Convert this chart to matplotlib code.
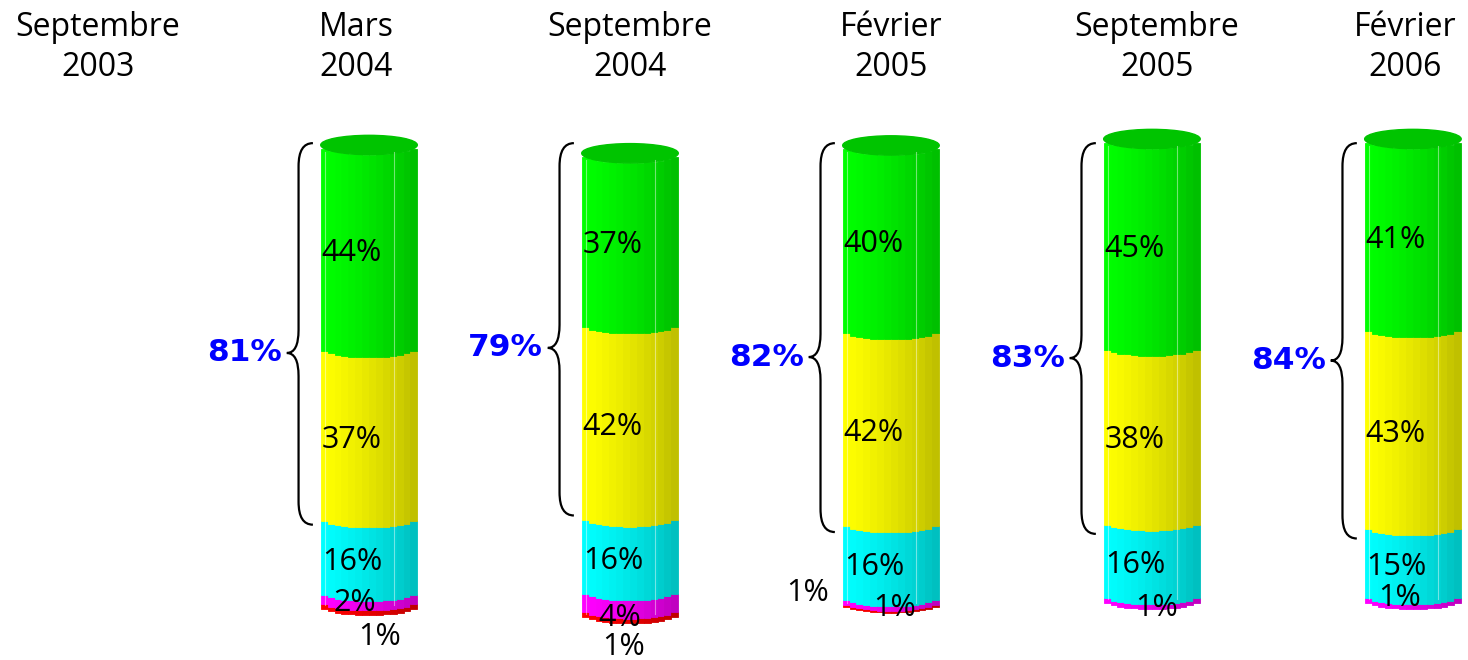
import numpy as np
import matplotlib
matplotlib.use("Agg")
import matplotlib.pyplot as plt
from matplotlib.path import Path
from matplotlib.patches import PathPatch, Ellipse
from matplotlib.colors import to_rgb

plt.rcParams["font.family"] = ["Open Sans", "DejaVu Sans"]

# Donnees (en %)
periodes = ["Septembre\n2003", "Mars\n2004", "Septembre\n2004",
            "Février\n2005", "Septembre\n2005", "Février\n2006"]
pos_barres = [1, 2, 3, 4, 5]          # Septembre 2003 n'a pas de barre
rouge = [1, 1, 0.4, 0, 0]
magenta = [2, 4, 1, 1, 1]
cyan = [16, 16, 16, 16, 15]
jaune = [37, 42, 42, 38, 43]
vert = [44, 37, 40, 45, 41]
totaux = [81, 79, 82, 83, 84]
etiq_rouge = ["1%", "1%", "1%", "", ""]
etiq_magenta = ["2%", "4%", "1%", "1%", "1%"]

series = [rouge, magenta, cyan, jaune, vert]
couleurs = ["#FF0000", "#FF00FF", "#00FFFF", "#FFFF00", "#00FF00"]

# position des petites etiquettes (dx depuis le bord gauche, y)
pos_rouge = [(0.142, -7.0), (0.080, -9.1), (-0.218, 2.6), None, None]
pos_magenta = [(0.050, 0.4), (0.065, -2.8), (0.115, -0.6), (0.119, -0.6), (0.050, 1.5)]
decalage_titres = [-0.04, -0.05, 0.0, 0.0, 0.02, -0.03]
decalage_barres = [0, -1.8, 0.5, 1.3, 1.3]   # petit decalage vertical du dessin 3D

largeur = 0.37
n_bandes = 14
haut_ellipse = 4.2
taille = 22


def ombre(c, u):
    # u de -1 (gauche, clair) a 1 (droite, sombre)
    f = 1.0 - 0.26 * ((u + 1) / 2) ** 1.4
    return tuple(np.array(to_rgb(c)) * f)


def accolade(ax, xr, xm, xt, yl, yh, yt, r):
    verts = [(xr, yh), (xm, yh), (xm, yh - r),
             (xm, yt + r), (xm, yt), (xt, yt),
             (xm, yt), (xm, yt - r),
             (xm, yl + r), (xm, yl), (xr, yl)]
    codes = [Path.MOVETO, Path.CURVE3, Path.CURVE3,
             Path.LINETO, Path.CURVE3, Path.CURVE3,
             Path.CURVE3, Path.CURVE3,
             Path.LINETO, Path.CURVE3, Path.CURVE3]
    ax.add_patch(PathPatch(Path(verts, codes), fill=False, lw=1.6, color="black"))


fig = plt.figure(figsize=(14.68, 6.6), dpi=100)
ax = fig.add_axes([0, 0, 1, 1])
ax.axis("off")
ax.set_xlim(-0.414, 5.211)
ax.set_ylim(-11.9, 131.5)

for i, p in enumerate(periodes):
    ax.text(i + decalage_titres[i], 0.983, p, transform=ax.get_xaxis_transform(),
            ha="center", va="top", fontsize=23, linespacing=1.27)

bords = np.linspace(-1, 1, n_bandes + 1)
centres = (bords[:-1] + bords[1:]) / 2

for j, x0 in enumerate(pos_barres):
    valeurs = [s[j] for s in series]
    cum = np.concatenate([[0], np.cumsum(valeurs)])
    dy = decalage_barres[j]
    for u in centres:
        creux = haut_ellipse / 2 * np.sqrt(1 - u ** 2)
        for i, v in enumerate(valeurs):
            if v <= 0:
                continue
            c = ombre(couleurs[i], u)
            ax.bar(x0 + u * largeur / 2, v, width=largeur / n_bandes,
                   bottom=cum[i] - creux + dy, color=c, edgecolor=c, linewidth=0.6)
    # reflets verticaux
    for xr in (-0.46, 0.26):
        ax.plot([x0 + xr * largeur, x0 + xr * largeur], [cum[0] + dy, cum[-1] + dy - 1.5],
                color="white", lw=0.8, alpha=0.45)
    ax.add_patch(Ellipse((x0, cum[-1] + dy), largeur, haut_ellipse,
                         facecolor="#00C400", edgecolor="#00C400"))

    gauche = x0 - largeur / 2
    for i in (2, 3, 4):
        ax.text(gauche + 0.004, cum[i] + valeurs[i] / 2 + dy - 1.5, f"{valeurs[i]}%",
                ha="left", va="center", fontsize=taille)
    dx, y = pos_magenta[j]
    ax.text(gauche + dx, y, etiq_magenta[j], ha="left", va="center", fontsize=taille)
    if pos_rouge[j] is not None:
        dx, y = pos_rouge[j]
        ax.text(gauche + dx, y, etiq_rouge[j], ha="left", va="center", fontsize=taille)

    # accolade et total
    yl, yh = cum[3] - 1.5, 100.4
    yt = yl + 0.45 * (yh - yl)
    xr = gauche - 0.03
    xm = gauche - 0.085
    xt = gauche - 0.13
    accolade(ax, xr, xm, xt, yl, yh, yt, 5.0)
    ax.text(xt - 0.02, yt, f"{totaux[j]}%", ha="right", va="center",
            fontsize=22.5, fontweight="bold", color="#0000FF",
            family="DejaVu Sans")

fig.savefig("out.png", dpi=100)
